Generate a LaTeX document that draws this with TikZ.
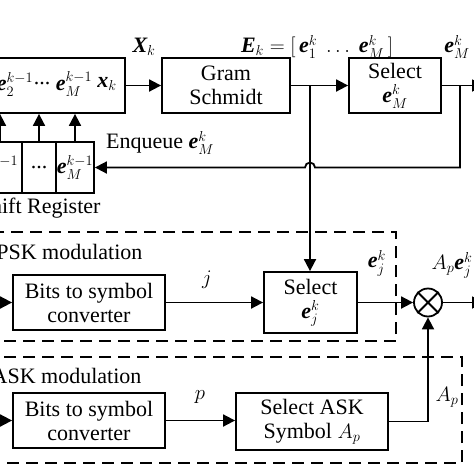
\documentclass[tikz,border=0pt]{standalone}
\usepackage{amsmath}
\usepackage{amssymb}
\usepackage{fontspec}
\setmainfont{Liberation Serif}
\usetikzlibrary{arrows.meta,calc}
\newcommand{\bv}[1]{\mbox{\bfseries\itshape #1}}

\tikzset{
  blk/.style={draw, line width=1.8pt, align=center, inner sep=0pt},
  sig/.style={line width=1.8pt},
  arr/.style={sig, -{Triangle[length=12pt,width=12pt]}},
  dashbox/.style={line width=1.8pt, dash pattern=on 12pt off 7pt},
}

\begin{document}
\begin{tikzpicture}[x=1pt,y=-1pt,font=\fontsize{22}{24}\selectfont]
\useasboundingbox (0,0) rectangle (474,474);
\clip (0,0) rectangle (474,474);

% top row
\node[blk, minimum width=245pt, minimum height=55pt] (buf) at (2.5,85.5) {};
\node (bufe2) at (15,84) {$\bv{e}_2^{k-1}$};
\node (bufdots) at (42,84) {...};
\node (bufeM) at (74,84) {$\bv{e}_M^{k-1}$};
\node (bufx) at (107,84) {$\bv{x}_k$};
\node[blk, minimum width=128pt, minimum height=55pt] (gs) at (226,85.5) {Gram\\Schmidt};
\node[blk, minimum width=92pt, minimum height=55pt] (selM) at (395,85.5) {Select\\$\bv{e}_M^k$};
\coordinate (jgs) at (310,85.5);
\coordinate (jM) at (460,85.5);
\coordinate (outM) at (484,85.5);
\draw[arr] (buf) -- (gs);
\draw[arr] (gs) -- (selM);
\draw[arr] (selM) -- (outM);
\node (lblX) at (144,47) {$\bv{X}_k$};
\node (lblE) at (317,47) {$\bv{E}_k=[\,\bv{e}_1^k\ \ldots\ \bv{e}_M^k\,]$};
\node (lbleM) at (457,47) {$\bv{e}_M^k$};

% shift register
\node[blk, minimum width=44pt, minimum height=51pt] (reg1) at (0,167.5) {$\bv{e}_2^{k-1}$};
\node[blk, minimum width=34pt, minimum height=51pt] (reg2) at (39,167.5) {...};
\node[blk, minimum width=38pt, minimum height=51pt] (reg3) at (75,167.5) {$\bv{e}_M^{k-1}$};
\node[anchor=east] (lblreg) at (104,208) {Shift Register};
\foreach \c in {reg1,reg2,reg3}
  \draw[arr] (\c.north) -- (\c.north |- buf.south);
\coordinate (fb) at (460,167.5);
\draw[arr] (jM) -- (fb) -- (315,167.5)
  arc[start angle=0,end angle=180,radius=5pt] -- (reg3.east);
\node (lblenq) at (160,143) {Enqueue $\bv{e}_M^k$};

% PSK branch
\draw[dashbox] (-20,232) rectangle (396,341);
\node[anchor=east] (lblpsk) at (146,252) {PSK modulation};
\node[blk, minimum width=152pt, minimum height=55pt] (pskconv) at (89,302.5) {Bits to symbol\\converter};
\node[blk, minimum width=93pt, minimum height=61pt] (selj) at (310.5,302.5) {Select\\$\bv{e}_j^k$};
\node[draw, circle, line width=1.8pt, minimum size=28pt, inner sep=0pt] (mult) at (428,302.5) {};
\draw[sig] (mult.north east) -- (mult.south west) (mult.north west) -- (mult.south east);
\coordinate (pskin) at (-20,302.5);
\coordinate (outj) at (484,302.5);
\draw[arr] (pskin) -- (pskconv);
\draw[arr] (pskconv) -- (selj);
\draw[arr] (jgs) -- (jgs |- selj.north);
\draw[arr] (selj) -- (mult);
\draw[arr] (mult) -- (outj);
\node (lblj) at (207,280) {$j$};
\node (lblej) at (377,263) {$\bv{e}_j^k$};
\node (lblAe) at (452,265) {$A_p\bv{e}_j^k$};

% ASK branch
\draw[dashbox] (-20,357) rectangle (462,463);
\node[anchor=east] (lblask) at (145,376) {ASK modulation};
\node[blk, minimum width=152pt, minimum height=55pt] (askconv) at (89,420.5) {Bits to symbol\\converter};
\node[blk, minimum width=152pt, minimum height=57pt] (selA) at (312,421.5) {Select ASK\\Symbol $A_p$};
\coordinate (askin) at (-20,420.5);
\draw[arr] (askin) -- (askconv);
\draw[arr] (askconv) -- (askconv -| selA.west);
\draw[arr] (selA) -| (mult);
\node (lblp) at (200,397) {$p$};
\node (lblA) at (447,397) {$A_p$};
\end{tikzpicture}
\end{document}
